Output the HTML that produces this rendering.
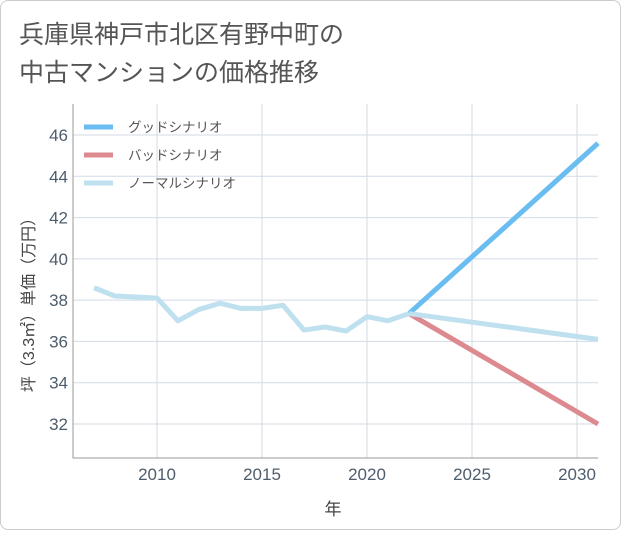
<!DOCTYPE html>
<html><head><meta charset="utf-8"><style>
body{margin:0;background:#fff;}
.card{position:absolute;left:0;top:0;width:619px;height:528px;border:1px solid #ccc;border-radius:8px;background:#fff;}
svg text{font-family:"Liberation Sans","Noto Sans CJK JP",sans-serif;}
</style></head><body>
<div class="card">
<svg width="621" height="530">
<text x="18" y="42" font-size="25" fill="#555">兵庫県神戸市北区有野中町の</text>
<text x="18" y="80" font-size="25" fill="#555">中古マンションの価格推移</text>
<g id="grid"></g>
<g id="axes"></g>
<g id="series"></g>
<g id="legend"></g>
<text x="332" y="514" font-size="17" fill="#444" text-anchor="middle">年</text>
<text transform="translate(33,300) rotate(-90)" font-size="16" fill="#444" text-anchor="middle">坪（3.3㎡）単価（万円）</text>
</svg></div>
<script>
const years=[2007,2008,2009,2010,2011,2012,2013,2014,2015,2016,2017,2018,2019,2020,2021,2022];
const normalHist=[38.6,38.2,38.15,38.1,37.0,37.55,37.85,37.6,37.6,37.75,36.55,36.7,36.5,37.2,37.0,37.35];
const projYears=[2022,2031];
const goodProj=[37.35,45.6];
const badProj=[37.35,32.0];
const normalProj=[37.35,36.1];
const xTicks=[2010,2015,2020,2025,2030];
const yTicks=[32,34,36,38,40,42,44,46];
const NS='http://www.w3.org/2000/svg';
const L=72,R=597,T=103,B=457;
const x=v=>156+(v-2010)*21;
const y=v=>134+(46-v)*(289/14);
function mk(tag,attrs,parent){const e=document.createElementNS(NS,tag);for(const k in attrs)e.setAttribute(k,attrs[k]);parent.appendChild(e);return e;}
const grid=document.getElementById('grid'),axes=document.getElementById('axes'),ser=document.getElementById('series'),leg=document.getElementById('legend');
xTicks.forEach(t=>{
 const l=mk('line',{x1:x(t),x2:x(t),y1:T,y2:B,stroke:'#d3dbe6','stroke-width':1},grid);
 
 
 const tx=mk('text',{x:x(t),y:479,'font-size':17,fill:'#4e5d6c','text-anchor':'middle'},axes);
 tx.textContent=t;
 
 
});
yTicks.forEach(t=>{
 const l=mk('line',{x1:L,x2:R,y1:y(t),y2:y(t),stroke:'#d3dbe6','stroke-width':1},grid);
 
 
 const tx=mk('text',{x:67,y:y(t)+6,'font-size':17,fill:'#4e5d6c','text-anchor':'end'},axes);
 tx.textContent=t;
 
 
});
const ax=mk('path',{d:`M${L},${T} V${B} H${R}`,stroke:'#999',fill:'none','stroke-width':1},axes);


function line(xs,vs,color,name){
 const p=mk('polyline',{points:xs.map((v,i)=>x(v)+','+y(vs[i])).join(' '),stroke:color,'stroke-width':5,fill:'none','stroke-linejoin':'round'},ser);
 
 
}
line(projYears,badProj,'#dc8a8f','bad-scenario-line');
line(projYears,goodProj,'#6abdf0','good-scenario-line');
line(years,normalHist,'#bfe0ee','normal-history-line');
line(projYears,normalProj,'#bfe0ee','normal-scenario-line');
const items=[['グッドシナリオ','#6abdf0','legend-good'],['バッドシナリオ','#dc8a8f','legend-bad'],['ノーマルシナリオ','#bfe0ee','legend-normal']];
items.forEach((it,i)=>{
 const g=mk('g',{},leg);
 
 
 const yy=126+i*28;
 mk('line',{x1:83,x2:112,y1:yy,y2:yy,stroke:it[1],'stroke-width':5},g);
 const t=mk('text',{x:127,y:yy+5,'font-size':13.5,fill:'#555'},g);
 t.textContent=it[0];
});
</script>
</body></html>
